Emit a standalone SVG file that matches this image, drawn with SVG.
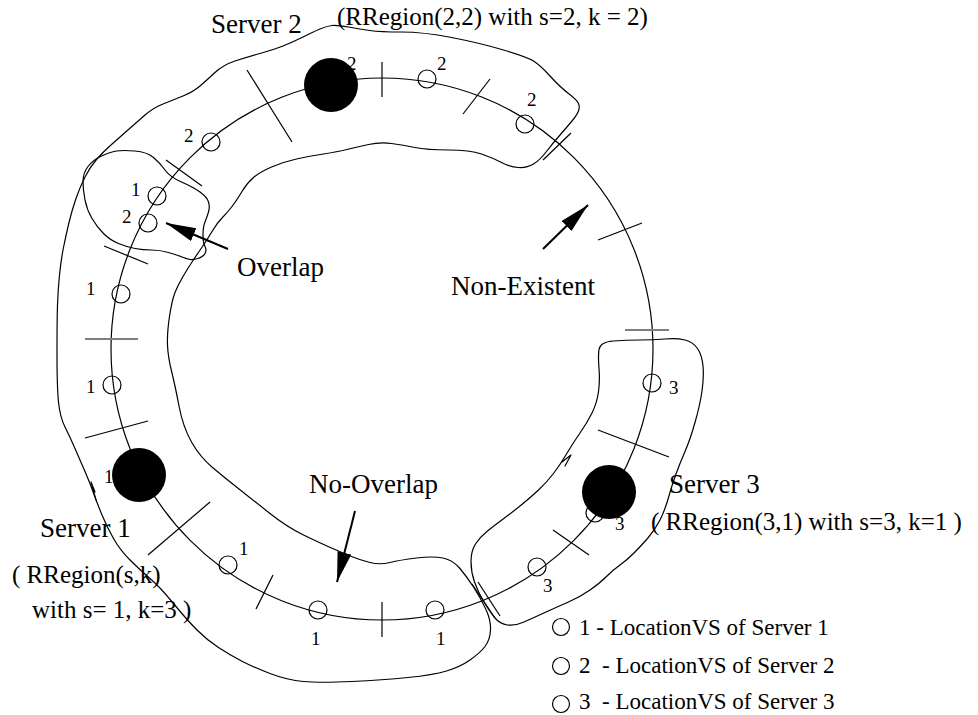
<svg xmlns="http://www.w3.org/2000/svg" width="978" height="715" viewBox="0 0 978 715">
  <style>
    .ln { fill: none; stroke: #000; stroke-width: 1.2; stroke-linejoin: round; stroke-linecap: round; }
    .tk { stroke: #000; stroke-width: 1.2; }
    .gt { stroke: #7f7f7f; stroke-width: 1.8; }
    .loc { fill: none; stroke: #000; stroke-width: 1.2; }
    .srv { fill: #000; }
    .arr { stroke: #000; stroke-width: 2; fill: none; marker-end: url(#head); }
    .big { font-family: "Liberation Serif", "Times New Roman", serif; font-size: 27px; fill: #000; }
    .par { font-family: "Liberation Serif", "Times New Roman", serif; font-size: 25px; fill: #000; }
    .num { font-family: "Liberation Serif", "Times New Roman", serif; font-size: 19px; fill: #000; }
    .leg { font-family: "Liberation Serif", "Times New Roman", serif; font-size: 23px; fill: #000; }
  </style>
  <defs>
    <marker id="head" markerUnits="userSpaceOnUse" markerWidth="32" markerHeight="16" refX="30" refY="7" orient="auto">
      <path d="M0,0 L30,7 L0,14 Z" fill="#000"/>
    </marker>
  </defs>
  <rect width="978" height="715" fill="#fff"/>

  <!-- the ring of virtual-server positions -->
  <g id="ring">
    <circle cx="382" cy="349" r="271" class="ln"/>
  </g>

  <!-- responsibility regions -->
  <g id="regions">
    <!-- RRegion of servers 1 and 2, drawn as one band -->
    <path id="region-1-2" class="ln" d="M578.5,111 Q580,107 578.5,103.5 Q577,100 568.5,93.5 Q560,87 550,76 Q540,65 533.5,61 Q527,57 503.5,50 Q480,43 451.5,37.5 Q423,32 401.5,32 Q380,32 370,30.5 Q360,29 348.5,27 Q337,25 332,25.5 Q327,26 320,29 Q313,32 303,37 Q293,42 283,46 Q273,50 260,53.5 Q247,57 235,61 Q223,65 215,72.5 Q207,80 200,86 Q193,92 183,96 Q173,100 163,104 Q153,108 145,115 Q137,122 128.5,129.5 Q120,137 111.5,144.5 Q103,152 96.5,159.5 Q90,167 85,177 Q80,187 76,198.5 Q72,210 69,222.5 Q66,235 63.5,247.5 Q61,260 59.5,275 Q58,290 57.5,305 Q57,320 57,353.5 Q57,387 58.5,402 Q60,417 65,427 Q70,437 75,448.5 Q80,460 85,471.5 Q90,483 93.5,493 Q97,503 102,515 Q107,527 113.5,538.5 Q120,550 130,560 Q140,570 150,578.5 Q160,587 173.5,603.5 Q187,620 197,630 Q207,640 218.5,647.5 Q230,655 241.5,661 Q253,667 270,673.5 Q287,680 303.5,681.5 Q320,683 351.5,681.5 Q383,680 408,677.5 Q433,675 446.5,671 Q460,667 470,660 Q480,653 485,646.5 Q490,640 490.5,630 Q491,620 485.5,608.5 Q480,597 473.5,587 Q467,577 460,568.5 Q453,560 443,558 Q433,556 416.5,558 Q400,560 390,562.5 Q380,565 370,562.5 Q360,560 351.5,556.5 Q343,553 331.5,548 Q320,543 303.5,535 Q287,527 270,513.5 Q253,500 239,489 Q225,478 212.5,467.5 Q200,457 191.5,442 Q183,427 179,406 Q175,385 171.5,371 Q168,357 167.5,345 Q167,333 169.5,316.5 Q172,300 175,292.5 Q178,285 183,276.5 Q188,268 193,260.5 Q198,253 202.5,246.5 Q207,240 212,231.5 Q217,223 222,218 Q227,213 232,206.5 Q237,200 242,191.5 Q247,183 253.5,177.5 Q260,172 271.5,167 Q283,162 296.5,159 Q310,156 323.5,154 Q337,152 347,149.5 Q357,147 368.5,144.5 Q380,142 391.5,143.5 Q403,145 415,147.5 Q427,150 448.5,150 Q470,150 481.5,154 Q493,158 501.5,162.5 Q510,167 518.5,167.5 Q527,168 533.5,164 Q540,160 546.5,151.5 Q553,143 560,135 Q567,127 572,121 Q577,115 578.5,111 Z"/>
    <polyline class="ln" points="96,500 91,482 95,492"/>
    <!-- overlap of regions 1 and 2 -->
    <path id="region-overlap" class="ln" d="M116.5,151 Q123,150 135,151 Q147,152 153.5,157.5 Q160,163 165,170 Q170,177 181.5,182 Q193,187 200,192 Q207,197 208.5,202 Q210,207 208.5,212 Q207,217 205,222 Q203,227 203,235 Q203,243 205,246.5 Q207,250 205,253.5 Q203,257 198,258.5 Q193,260 190,259.5 Q187,259 182,257 Q177,255 168.5,252.5 Q160,250 151.5,250 Q143,250 135,248.5 Q127,247 118.5,243.5 Q110,240 103.5,233.5 Q97,227 92,218.5 Q87,210 85,200 Q83,190 83,181.5 Q83,173 88,166.5 Q93,160 101.5,156 Q110,152 116.5,151 Z"/>
    <!-- RRegion of server 3 -->
    <path id="region-3" class="ln" d="M599,349.5 Q600,342 613.5,341 Q627,340 640,340 Q653,340 665,339 Q677,338 685,340 Q693,342 697.5,348.5 Q702,355 703,366 Q704,377 702,391 Q700,405 695,422.5 Q690,440 685,451.5 Q680,463 676,474 Q672,485 668.5,497.5 Q665,510 660,520 Q655,530 647.5,538.5 Q640,547 633.5,553.5 Q627,560 620,565 Q613,570 606.5,576.5 Q600,583 590,590 Q580,597 568.5,602 Q557,607 545,612.5 Q533,618 524,622 Q515,626 507.5,625 Q500,624 495,618 Q490,612 484,602 Q478,592 474.5,582 Q471,572 471,561.5 Q471,551 475.5,544 Q480,537 487.5,531 Q495,525 502.5,519.5 Q510,514 520,506 Q530,498 538.5,490 Q547,482 553.5,473.5 Q560,465 566.5,454 Q573,443 580,433 Q587,423 592,413 Q597,403 598.5,391.5 Q600,380 599,368.5 Q598,357 599,349.5 Z"/>
    <polyline class="ln" points="562,462 571,455 565,466"/>
  </g>

  <!-- partition ticks on the ring -->
  <g id="ticks">
    <line class="tk" x1="382" y1="62" x2="382" y2="97"/>
    <line class="tk" x1="463" y1="114" x2="490" y2="79"/>
    <line class="tk" x1="543" y1="160" x2="571" y2="133"/>
    <line class="tk" x1="598" y1="240" x2="642" y2="223"/>
    <line class="gt" x1="625" y1="330" x2="669" y2="330"/>
    <line class="tk" x1="598" y1="430" x2="669" y2="457"/>
    <line class="tk" x1="553" y1="530" x2="589" y2="555"/>
    <line class="tk" x1="472" y1="584" x2="495" y2="618"/>
    <line class="tk" x1="478" y1="582" x2="500" y2="616"/>
    <line class="tk" x1="382" y1="602" x2="382" y2="637"/>
    <line class="tk" x1="273" y1="575" x2="256" y2="609"/>
    <line class="tk" x1="210" y1="502" x2="148" y2="555"/>
    <line class="tk" x1="85" y1="438" x2="148" y2="421"/>
    <line class="gt" x1="85" y1="339" x2="138" y2="339"/>
    <line class="tk" x1="104" y1="246" x2="148" y2="264"/>
    <line class="tk" x1="166" y1="160" x2="202" y2="186"/>
    <line class="tk" x1="247" y1="70" x2="292" y2="142"/>
  </g>

  <!-- LocationVS nodes -->
  <g id="vs-2a"><circle class="loc" cx="427" cy="79" r="9"/><text class="num" x="437" y="70">2</text></g>
  <g id="vs-2b"><circle class="loc" cx="525" cy="124" r="9"/><text class="num" x="527" y="106">2</text></g>
  <g id="vs-2c"><circle class="loc" cx="211" cy="142" r="9"/><text class="num" x="184" y="142">2</text></g>
  <g id="vs-1a"><circle class="loc" cx="157" cy="196" r="9"/><text class="num" x="131" y="196">1</text></g>
  <g id="vs-2d"><circle class="loc" cx="148" cy="223" r="9"/><text class="num" x="122" y="223">2</text></g>
  <g id="vs-1b"><circle class="loc" cx="121" cy="294" r="9"/><text class="num" x="86" y="295">1</text></g>
  <g id="vs-1c"><circle class="loc" cx="112" cy="385" r="9"/><text class="num" x="86" y="393">1</text></g>
  <g id="vs-1d"><circle class="loc" cx="228" cy="565" r="9"/><text class="num" x="239" y="555">1</text></g>
  <g id="vs-1e"><circle class="loc" cx="318" cy="610" r="9"/><text class="num" x="311" y="645">1</text></g>
  <g id="vs-1f"><circle class="loc" cx="435" cy="610" r="9"/><text class="num" x="436" y="645">1</text></g>
  <g id="vs-3a"><circle class="loc" cx="537" cy="567" r="9"/><text class="num" x="543" y="592">3</text></g>
  <g id="vs-3b"><circle class="loc" cx="595" cy="513" r="9"/><text class="num" x="615" y="530">3</text></g>
  <g id="vs-3c"><circle class="loc" cx="652" cy="383" r="9"/><text class="num" x="669" y="394">3</text></g>
  <g id="vs-srv-labels">
    <text class="num" x="347" y="70">2</text>
    <text class="num" x="104" y="483">1</text>
  </g>

  <!-- servers -->
  <g id="server-2"><circle class="srv" cx="331" cy="85" r="27"/></g>
  <g id="server-1"><circle class="srv" cx="139" cy="475" r="27"/></g>
  <g id="server-3"><circle class="srv" cx="609" cy="492" r="27"/></g>

  <!-- pointer arrows -->
  <g id="connectors">
    <line class="arr" x1="228" y1="249" x2="166" y2="223"/>
    <line class="arr" x1="543" y1="249" x2="588" y2="205"/>
    <line class="arr" x1="355" y1="511" x2="337" y2="582"/>
  </g>

  <!-- labels -->
  <g id="labels">
    <text class="big" x="211" y="33">Server 2</text>
    <text class="par" x="337" y="25">(RRegion(2,2) with s=2, k = 2)</text>
    <text class="big" x="237" y="276">Overlap</text>
    <text class="big" x="451" y="295">Non-Existent</text>
    <text class="big" x="309" y="493">No-Overlap</text>
    <text class="big" x="40" y="537">Server 1</text>
    <text class="par" x="12" y="583" xml:space="preserve">( RRegion(s,k)</text>
    <text class="par" x="32" y="618">with s= 1, k=3 )</text>
    <text class="big" x="669" y="493">Server 3</text>
    <text class="par" x="651" y="530">( RRegion(3,1) with s=3, k=1 )</text>
  </g>

  <!-- legend -->
  <g id="legend">
    <circle class="loc" cx="561" cy="627" r="8.5"/>
    <text class="leg" x="579" y="635" xml:space="preserve">1 - LocationVS of Server 1</text>
    <circle class="loc" cx="561" cy="666" r="8.5"/>
    <text class="leg" x="579" y="673" xml:space="preserve">2  - LocationVS of Server 2</text>
    <circle class="loc" cx="561" cy="704" r="8.5"/>
    <text class="leg" x="579" y="709" xml:space="preserve">3  - LocationVS of Server 3</text>
  </g>
</svg>
